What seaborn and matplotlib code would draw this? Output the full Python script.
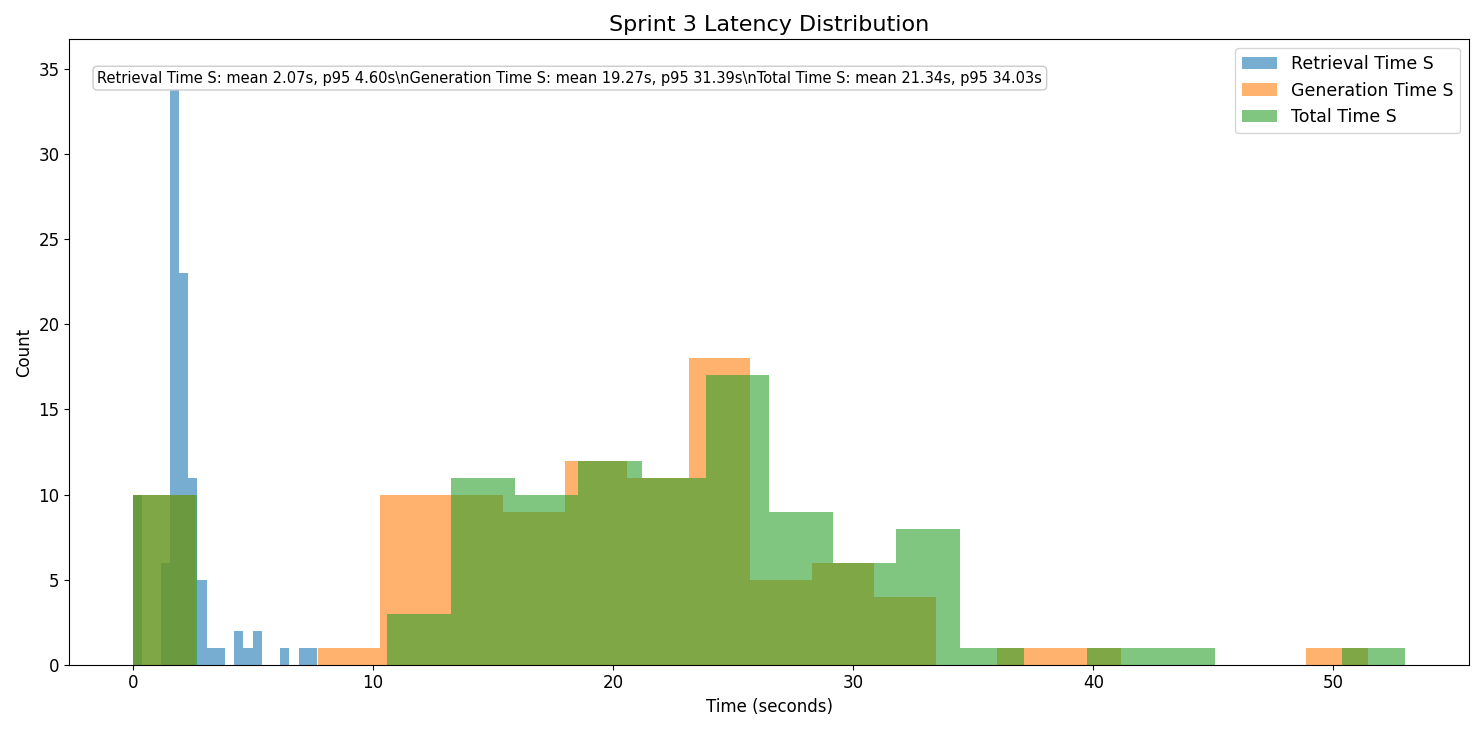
import numpy as np
import pandas as pd
import matplotlib
matplotlib.use("Agg")
import matplotlib.pyplot as plt
import seaborn as sns

# Histogram counts per bin (20 bins each, starting at 0)
retrieval_max = 7.66
retrieval_counts = [10, 0, 0, 6, 35, 23, 11, 5, 1, 1, 0, 2, 1, 2, 0, 0, 1, 0, 1, 1]
generation_max = 51.43
generation_counts = [10, 0, 0, 1, 10, 10, 9, 12, 11, 18, 5, 6, 4, 0, 1, 1, 0, 0, 0, 1]
total_max = 53.0
total_counts = [10, 0, 0, 0, 3, 11, 10, 12, 11, 17, 9, 6, 8, 1, 0, 1, 1, 0, 0, 1]

series = [
    ("Retrieval Time S", retrieval_max, retrieval_counts, "#1f77b4"),
    ("Generation Time S", generation_max, generation_counts, "#ff7f0e"),
    ("Total Time S", total_max, total_counts, "#2ca02c"),
]
stats_text = ("Retrieval Time S: mean 2.07s, p95 4.60s\\nGeneration Time S: mean 19.27s, p95 31.39s"
              "\\nTotal Time S: mean 21.34s, p95 34.03s")

fig, ax = plt.subplots(figsize=(14.84, 7.31), dpi=100)
for name, vmax, counts, color in series:
    edges = np.linspace(0, vmax, len(counts) + 1)
    df = pd.DataFrame({"t": (edges[:-1] + edges[1:]) / 2, "n": counts})
    sns.histplot(data=df, x="t", weights="n", bins=list(edges), color=color, alpha=0.6,
                 linewidth=0, label=name, ax=ax)

ax.set_title("Sprint 3 Latency Distribution", fontsize=16)
ax.set_xlabel("Time (seconds)", fontsize=12)
ax.set_ylabel("Count", fontsize=12)
ax.tick_params(labelsize=12)
ax.legend(loc="upper right", fontsize=12.5)
ax.text(0.02, 0.95, stats_text, transform=ax.transAxes, fontsize=10.5, va="top",
        bbox=dict(boxstyle="round", facecolor="white", edgecolor="#cccccc"))

plt.tight_layout()
plt.savefig("out.png", dpi=100)
